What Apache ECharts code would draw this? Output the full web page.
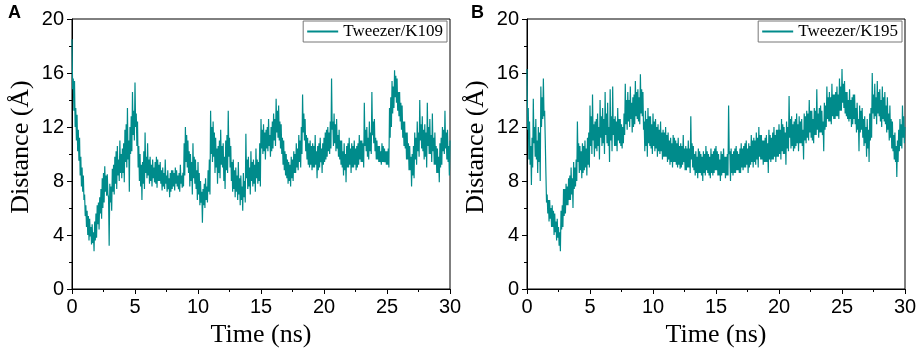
<!DOCTYPE html>
<html>
<head>
<meta charset="utf-8">
<script src="https://cdn.jsdelivr.net/npm/echarts@6/dist/echarts.min.js"></script>
<style>html,body{margin:0;padding:0;background:#fff}#c{width:920px;height:353px}</style>
</head>
<body>
<div id="c"></div>
<script>
// Time step between samples (ns); sample i is at i*timeStep
var timeStep = 0.05;
var xTicks = [0, 5, 10, 15, 20, 25, 30];
var yTicks = [0, 4, 8, 12, 16, 20];
var nameA = 'Tweezer/K109';
var nameB = 'Tweezer/K195';

// Panel A distance values (Å), t = 0.00 ... 30.00 ns, one row per ns
var distA = [
18.5,14.8,15.6,13.2,15.4,12.0,13.4,11.0,12.9,10.2,11.8,9.5,11.2,8.4,9.8,7.6,9.0,7.2,8.4,6.6,
7.0,5.4,6.2,4.6,5.8,4.0,5.4,3.6,5.2,3.9,4.6,3.3,4.8,3.4,4.2,2.8,5.0,3.6,5.6,3.8,
6.2,4.8,6.4,4.4,6.8,5.6,7.4,5.2,8.2,6.0,8.6,6.4,9.1,7.2,8.4,6.9,8.5,7.0,6.8,3.2,
7.8,6.4,7.6,5.8,8.9,7.2,9.2,7.0,9.8,7.8,10.2,7.4,10.6,8.4,9.6,8.0,11.0,8.6,10.0,8.2,
10.4,8.6,10.8,7.9,11.8,9.4,12.2,9.0,13.4,9.6,11.0,7.2,12.0,10.0,12.8,10.2,14.6,11.4,13.2,11.0,
15.3,12.0,13.0,10.6,12.4,9.0,10.6,8.0,10.0,7.6,9.2,6.6,9.4,7.8,10.2,7.4,11.6,8.6,9.8,8.2,
10.8,8.4,9.6,7.8,9.8,8.0,9.2,7.6,9.6,8.2,9.0,7.9,9.4,7.8,9.8,7.5,9.6,8.0,9.2,8.0,
9.4,7.8,8.8,7.3,9.0,7.6,8.6,7.4,9.6,7.8,8.4,7.2,8.8,7.4,8.2,6.8,8.6,7.2,8.8,7.4,
8.8,7.6,8.6,7.3,9.0,7.8,8.8,7.6,8.4,7.4,8.6,7.2,9.2,7.8,8.4,7.5,8.6,7.6,10.8,8.4,
12.0,9.4,11.4,9.0,11.0,8.6,10.2,7.6,10.0,8.0,9.4,7.0,10.8,8.2,9.8,7.8,9.6,7.4,8.8,6.6,
9.4,7.0,8.6,6.2,8.0,6.4,7.2,4.9,7.4,6.2,7.8,6.0,8.2,6.6,7.6,6.4,8.8,7.2,9.6,7.0,
13.2,10.0,12.0,9.4,12.4,9.8,11.6,8.6,11.2,9.0,10.4,7.8,10.6,8.6,11.0,8.2,11.8,9.2,10.6,9.0,
10.8,8.0,9.8,7.4,11.0,8.8,11.4,8.6,13.2,9.8,11.2,9.0,10.6,8.0,9.4,7.2,9.6,7.4,8.8,6.8,
9.0,7.2,8.4,6.6,9.4,7.0,8.2,6.2,8.4,6.6,7.6,5.8,8.6,6.8,8.0,6.4,11.5,8.2,9.6,7.4,
9.8,7.6,9.0,7.0,10.2,8.0,9.4,7.6,9.6,7.8,9.2,7.2,10.4,8.2,9.6,7.8,9.4,8.0,10.8,7.6,
12.6,10.4,11.8,10.0,12.2,10.2,11.6,9.6,11.8,10.4,12.0,10.2,12.6,10.6,11.4,9.8,12.0,10.2,12.4,10.4,
13.0,11.0,12.6,10.6,14.1,11.6,13.2,11.2,13.6,11.0,12.4,10.4,12.2,10.0,11.2,9.2,11.0,8.8,10.2,8.4,
10.0,8.2,9.6,7.8,9.4,8.0,9.2,7.6,9.8,8.2,9.6,8.0,10.2,8.6,10.0,8.6,10.8,9.0,10.4,8.8,
11.4,9.4,11.0,9.0,12.0,10.0,14.4,11.6,13.0,11.0,12.6,10.2,11.4,9.6,11.2,9.2,10.8,9.0,11.0,9.2,
10.6,8.8,10.8,9.0,10.6,9.0,11.4,9.2,10.2,8.2,10.6,8.8,10.8,9.0,11.2,9.4,10.4,8.6,10.8,9.2,
11.2,9.4,11.6,9.6,11.8,9.8,12.0,10.2,11.6,10.0,12.4,10.4,15.6,11.8,12.4,10.6,13.0,10.8,12.2,10.2,
12.6,10.4,11.4,9.8,11.8,9.6,11.0,9.2,11.0,9.0,10.2,8.4,10.8,8.8,10.0,7.9,10.6,9.0,10.8,9.0,
11.2,9.2,10.4,8.6,10.8,9.0,10.6,9.0,11.0,9.2,10.4,8.8,10.6,9.0,10.8,9.2,11.4,9.6,11.0,9.4,
11.0,9.4,10.8,9.0,13.8,10.6,11.8,10.2,12.0,9.8,11.2,9.6,12.4,10.2,11.6,10.0,14.6,11.4,12.4,10.8,
12.6,10.2,11.2,9.6,11.0,9.6,10.6,9.4,10.6,9.4,10.2,9.2,10.8,9.4,10.6,9.4,10.4,9.4,10.2,9.2,
10.2,9.2,10.4,9.0,13.4,11.2,14.2,12.0,15.4,13.0,15.0,13.4,16.2,14.2,15.8,13.8,15.6,13.2,14.6,12.8,
14.6,12.4,13.8,11.8,13.6,11.2,12.4,10.6,12.4,10.4,11.6,9.6,11.6,9.6,10.8,8.8,10.6,8.8,9.8,7.6,
10.0,8.4,10.6,8.2,11.6,9.6,11.2,9.2,12.4,10.2,11.6,9.8,14.0,11.0,12.2,10.4,12.8,10.2,11.8,9.6,
12.2,9.8,11.6,9.0,13.8,10.6,12.0,10.0,12.6,10.0,11.4,9.4,13.0,10.2,11.2,9.2,11.6,9.2,10.6,8.6,
10.4,8.6,9.8,7.9,10.8,9.0,11.2,9.2,12.0,10.2,11.8,10.0,13.2,10.4,11.6,9.6,11.8,9.4,10.6,8.4,
11.0
];

// Panel B distance values (Å), t = 0.00 ... 30.00 ns, one row per ns
var distB = [
16.3,11.8,13.4,9.6,12.4,9.2,10.6,7.7,11.2,9.0,14.1,10.8,12.0,9.8,12.6,9.6,11.0,8.6,12.0,9.4,
11.6,8.0,15.0,12.0,14.2,12.6,15.6,12.8,13.2,11.0,8.6,6.4,7.0,5.6,6.6,5.0,6.6,5.2,6.0,4.6,
6.2,4.6,5.8,4.0,5.6,4.2,5.0,3.6,5.2,3.8,4.6,3.2,4.2,2.8,5.8,4.4,6.2,4.6,7.4,5.4,
7.4,5.6,7.8,6.2,7.6,6.2,8.2,6.6,8.4,6.6,9.0,7.0,8.2,6.0,9.4,7.4,9.0,7.6,9.6,8.0,
12.4,9.4,10.8,8.6,10.6,8.8,10.2,8.2,10.8,8.6,10.6,8.8,11.0,9.0,10.4,8.4,11.2,9.2,11.6,9.0,
13.6,10.6,12.8,10.0,14.4,11.0,12.2,9.8,12.4,10.4,12.6,10.2,13.0,10.6,12.0,9.6,14.0,11.2,12.8,10.6,
13.4,10.8,12.6,10.0,14.6,11.4,13.0,10.8,13.8,10.6,12.0,9.4,14.8,11.0,12.8,10.2,15.0,11.4,12.6,10.6,
12.8,10.6,12.4,10.2,13.4,11.0,12.6,10.8,12.6,10.6,12.2,10.4,12.0,10.8,13.0,11.4,15.2,12.2,14.0,11.8,
14.6,12.4,14.0,12.0,15.0,12.6,13.8,11.6,14.2,12.0,14.4,12.2,15.4,12.8,14.6,12.6,14.8,12.4,14.2,12.2,
15.9,13.0,14.8,12.8,14.6,11.8,12.4,10.2,13.2,10.6,12.6,9.8,13.4,10.8,12.8,10.6,12.8,10.4,12.2,10.0,
13.0,10.6,12.4,10.2,12.6,10.4,12.0,9.8,12.2,10.2,11.8,10.0,12.4,10.2,11.6,9.6,11.8,9.8,11.6,9.8,
12.0,9.8,11.4,9.4,11.6,9.6,11.0,9.2,11.2,9.4,10.8,9.0,11.4,9.4,11.2,9.4,11.0,9.2,10.8,9.0,
11.2,9.2,10.6,8.9,10.8,9.0,10.6,9.2,11.4,9.4,10.4,8.8,10.6,8.8,10.4,9.0,11.0,9.0,10.4,8.6,
12.8,9.6,10.8,9.0,10.6,8.8,10.0,8.4,10.2,8.6,9.8,8.2,10.4,8.6,10.2,8.6,10.0,8.4,9.8,8.0,
10.2,8.6,10.0,8.4,10.6,8.8,10.2,8.6,10.0,8.4,9.8,8.2,10.4,8.6,10.0,8.4,10.2,8.6,10.4,8.8,
10.6,8.8,10.2,8.4,10.0,8.4,9.6,8.0,10.2,8.4,10.0,8.6,10.4,8.6,9.8,8.2,9.8,8.4,10.0,8.4,
13.6,10.0,10.2,8.0,10.4,8.6,10.0,8.4,10.2,8.6,10.4,8.6,10.6,8.8,10.2,8.8,10.0,8.6,10.4,8.6,
10.8,9.0,10.4,8.8,10.6,9.0,10.8,9.0,11.0,9.2,10.4,8.6,10.8,9.0,10.6,9.2,11.4,9.4,11.0,9.0,
11.2,9.4,11.0,9.2,11.6,9.6,11.2,9.0,12.0,9.8,11.4,9.6,11.4,9.6,11.0,9.2,11.0,9.4,11.2,9.4,
11.4,9.4,10.8,8.6,11.8,9.6,11.4,9.4,11.2,9.6,11.6,9.6,12.0,9.8,11.4,9.4,11.8,9.8,11.8,9.8,
12.2,10.0,11.8,9.6,12.6,10.2,12.2,10.0,12.0,10.0,11.6,9.2,12.4,10.4,12.0,10.2,14.3,11.2,12.6,10.4,
12.8,10.6,12.2,10.2,12.4,10.4,12.6,10.6,13.0,10.8,12.2,10.2,12.8,10.8,12.4,10.8,12.6,10.6,11.8,9.6,
13.0,11.0,12.8,10.8,13.2,11.2,13.0,11.0,14.0,11.6,13.2,11.2,13.2,11.0,12.6,10.8,13.4,11.4,13.2,11.4,
14.8,11.8,13.0,11.2,13.4,11.6,13.6,11.6,13.2,11.4,12.4,10.2,13.8,11.8,13.6,12.0,15.0,12.6,14.2,12.4,
14.6,12.4,14.2,12.2,15.2,12.8,14.4,12.6,14.4,12.6,14.6,12.8,15.0,12.8,14.4,12.6,15.6,13.2,15.0,13.2,
16.3,13.8,15.2,13.4,15.4,13.0,14.6,12.8,14.6,12.6,14.0,12.4,14.8,12.6,14.0,12.0,14.2,12.2,14.4,12.6,
14.4,12.2,13.4,11.6,13.8,11.8,12.6,10.2,13.6,11.6,13.2,11.8,13.4,11.2,12.6,10.6,12.8,10.8,12.0,9.8,
12.6,10.4,11.8,9.4,13.0,11.0,13.4,11.2,16.0,13.0,14.4,12.6,15.2,12.8,14.2,12.2,15.4,13.0,14.6,12.8,
14.8,12.4,14.0,12.0,15.0,12.6,14.2,12.4,14.6,12.2,13.6,11.6,14.2,11.8,13.0,11.0,13.6,11.2,12.6,10.4,
12.4,10.2,11.4,9.6,11.6,9.4,10.6,8.3,11.0,9.4,11.8,10.2,12.6,10.6,12.2,10.4,13.6,11.2,12.8,10.8,
12.0
];

function pairs(vals) {
  return vals.map(function (v, i) { return [+(i * timeStep).toFixed(2), v]; });
}

var teal = '#008b8b';
var serif = '"Liberation Serif","Times New Roman",serif';
var sans = '"Liberation Sans",Arial,sans-serif';

function xAxis(idx) {
  return {
    type: 'value', gridIndex: idx, min: xTicks[0], max: xTicks[xTicks.length - 1], interval: 5,
    name: 'Time (ns)', nameLocation: 'middle', nameGap: 33,
    nameTextStyle: { fontFamily: serif, fontSize: 26, color: '#000' },
    axisLine: { show: true, lineStyle: { color: '#000', width: 1 } },
    axisTick: { show: true, inside: false, length: 5, lineStyle: { color: '#000' } },
    minorTick: { show: true, splitNumber: 2, length: 3, lineStyle: { color: '#000' } },
    splitLine: { show: false },
    axisLabel: { fontFamily: sans, fontSize: 20, color: '#000', margin: 8 }
  };
}
function yAxis(idx) {
  return {
    type: 'value', gridIndex: idx, min: yTicks[0], max: yTicks[yTicks.length - 1], interval: 4,
    name: 'Distance (Å)', nameLocation: 'middle', nameGap: 38,
    nameTextStyle: { fontFamily: serif, fontSize: 26, color: '#000', padding: [0, 0, 0, 14] },
    axisLine: { show: true, lineStyle: { color: '#000', width: 1 } },
    axisTick: { show: true, inside: false, length: 5, lineStyle: { color: '#000' } },
    minorTick: { show: true, splitNumber: 2, length: 3, lineStyle: { color: '#000' } },
    splitLine: { show: false },
    axisLabel: { fontFamily: sans, fontSize: 20, color: '#000', margin: 8 }
  };
}
function legend(name, right) {
  return {
    data: [name], top: 21, right: right, orient: 'horizontal',
    itemWidth: 31, itemHeight: 2, itemGap: 0,
    padding: [2, 4, 2, 4], borderColor: '#777', borderWidth: 1,
    textStyle: { fontFamily: serif, fontSize: 17, color: '#000' },
    icon: 'rect'
  };
}

var chart = echarts.init(document.getElementById('c'), null, { renderer: 'canvas' });
chart.setOption({
  animation: false,
  backgroundColor: '#fff',
  title: [
    { text: 'A', left: 3, top: -1, textStyle: { fontFamily: sans, fontSize: 18, fontWeight: 'bold', color: '#000' } },
    { text: 'B', left: 466, top: -1, textStyle: { fontFamily: sans, fontSize: 18, fontWeight: 'bold', color: '#000' } }
  ],
  legend: [legend(nameA, 473), legend(nameB, 18)],
  grid: [
    { left: 72, top: 19, width: 378, height: 276, show: true, borderColor: '#000', borderWidth: 1, backgroundColor: 'transparent' },
    { left: 527, top: 19, width: 378, height: 276, show: true, borderColor: '#000', borderWidth: 1, backgroundColor: 'transparent' }
  ],
  xAxis: [xAxis(0), xAxis(1)],
  yAxis: [yAxis(0), yAxis(1)],
  series: [
    { name: nameA, type: 'line', xAxisIndex: 0, yAxisIndex: 0, data: pairs(distA), showSymbol: false, symbol: 'none',
      lineStyle: { color: teal, width: 1.2 }, itemStyle: { color: teal } },
    { name: nameB, type: 'line', xAxisIndex: 1, yAxisIndex: 1, data: pairs(distB), showSymbol: false, symbol: 'none',
      lineStyle: { color: teal, width: 1.2 }, itemStyle: { color: teal } }
  ]
});
</script>
</body>
</html>
